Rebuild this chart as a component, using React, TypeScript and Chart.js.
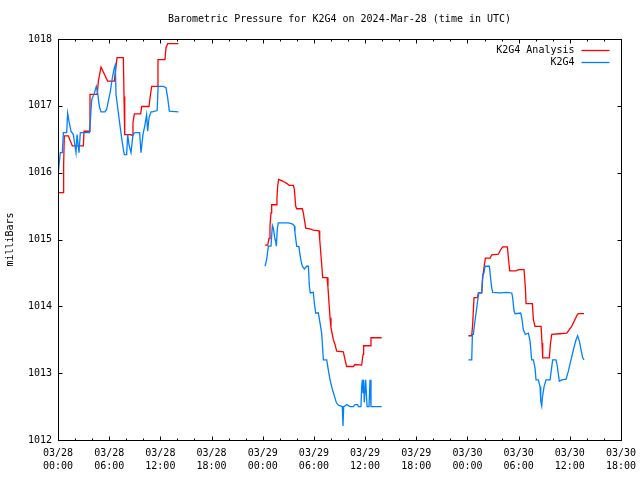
import React, { useEffect, useRef } from 'react';
import { Chart, registerables } from 'chart.js';

Chart.register(...registerables);

const FONT = "'DejaVu Sans Mono', 'Liberation Mono', monospace";
const TITLE = 'Barometric Pressure for K2G4 on 2024-Mar-28 (time in UTC)';
const Y_LABEL = 'milliBars';
const SERIES_NAMES = ['K2G4 Analysis', 'K2G4'];
const SERIES_COLORS = ['#ff0000', '#0080ff'];

// x axis: hours since 2024-03-28 00:00 UTC
const X_MIN = 0;
const X_MAX = 66;
const X_TICK_HOURS = [0, 6, 12, 18, 24, 30, 36, 42, 48, 54, 60, 66];
const X_TICK_LABELS = [
  ['03/28', '00:00'], ['03/28', '06:00'], ['03/28', '12:00'], ['03/28', '18:00'],
  ['03/29', '00:00'], ['03/29', '06:00'], ['03/29', '12:00'], ['03/29', '18:00'],
  ['03/30', '00:00'], ['03/30', '06:00'], ['03/30', '12:00'], ['03/30', '18:00'],
];
const X_MINOR_STEP = 2;
const Y_TICKS = [1012, 1013, 1014, 1015, 1016, 1017, 1018];

// K2G4 Analysis (red); null marks a gap in the record
const analysisHours = [
  0.0, 0.63, 0.66, 0.74, 1.21, 1.68, 2.97, 3.05, 3.67, 3.75, 4.53, 4.61, 4.73, 5.04, 5.82, 6.6,
  6.92, 7.66, 7.74, 7.82, 8.44, 8.71, 8.79, 8.95, 9.69, 9.81, 10.67, 10.79, 10.98, 11.65, 11.72,
  12.54, 12.66, 12.86, 14.11,
  19,
  24.27, 24.58, 24.74, 24.85, 24.97, 25.05, 25.56, 25.67, 25.75, 25.87, 26.22, 26.53, 26.81, 27.08,
  27.59, 27.71, 27.86, 27.98, 28.64, 28.76, 28.88, 29.04, 29.54, 29.93, 30.6, 30.68, 30.91, 31.03,
  31.54, 31.65, 31.77, 31.89, 32.0, 32.28, 32.47, 32.67, 33.45, 33.65, 33.84, 34.62, 34.82, 35.6,
  35.76, 35.83, 36.58, 36.69, 37.94,
  43,
  48.11, 48.5, 48.61, 48.77, 49.16, 49.28, 49.67, 49.79, 49.94, 50.1, 50.65, 50.84, 51.62, 51.9,
  52.13, 52.68, 52.8, 52.95, 53.7, 53.97, 54.63, 54.79, 54.87, 55.61, 55.73, 55.92, 56.63, 56.74,
  56.82, 57.6, 57.72, 57.88, 58.77, 59.64, 60.22, 60.89, 61.0, 61.67,
];
const analysisValues = [
  1015.7, 1015.7, 1016.12, 1016.55, 1016.55, 1016.4, 1016.4, 1016.62, 1016.62, 1017.17, 1017.17,
  1017.19, 1017.37, 1017.58, 1017.37, 1017.37, 1017.72, 1017.72, 1017.14, 1016.57, 1016.57,
  1016.56, 1016.75, 1016.88, 1016.88, 1016.99, 1016.99, 1017.12, 1017.29, 1017.29, 1017.69,
  1017.69, 1017.87, 1017.93, 1017.93,
  null,
  1014.915, 1014.915, 1015.015, 1015.2, 1015.4, 1015.52, 1015.52, 1015.62, 1015.8, 1015.9,
  1015.88, 1015.86, 1015.84, 1015.81, 1015.81, 1015.75, 1015.5, 1015.46, 1015.46, 1015.4,
  1015.3, 1015.17, 1015.16, 1015.14, 1015.13, 1015.0, 1014.63, 1014.43, 1014.43, 1014.28,
  1014.05, 1013.83, 1013.68, 1013.5, 1013.43, 1013.33, 1013.32, 1013.2, 1013.1, 1013.1,
  1013.13, 1013.12, 1013.28, 1013.41, 1013.41, 1013.53, 1013.53,
  null,
  1013.56, 1013.56, 1013.73, 1014.13, 1014.13, 1014.2, 1014.2, 1014.43, 1014.58, 1014.72,
  1014.72, 1014.77, 1014.78, 1014.85, 1014.89, 1014.89, 1014.73, 1014.53, 1014.53, 1014.55,
  1014.55, 1014.28, 1014.04, 1014.04, 1013.8, 1013.7, 1013.7, 1013.45, 1013.23, 1013.23,
  1013.43, 1013.58, 1013.59, 1013.6, 1013.7, 1013.88, 1013.89, 1013.89,
];

// K2G4 observations (blue)
const obsHours = [
  0.0, 0.12, 0.27, 0.51, 0.63, 1.02, 1.13, 1.29, 1.52, 1.8, 1.91, 2.11, 2.23, 2.3, 2.46, 2.62,
  3.67, 3.79, 3.95, 4.26, 4.49, 4.65, 4.85, 5.04, 5.51, 5.71, 5.9, 6.14, 6.37, 6.6, 6.72, 6.8,
  7.07, 7.27, 7.46, 7.66, 7.78, 8.05, 8.17, 8.32, 8.56, 8.79, 9.03, 9.57, 9.73, 9.96, 10.2,
  10.39, 10.51, 10.67, 10.9, 11.06, 11.62, 11.74, 12.35, 12.66, 12.86, 13.05, 14.11,
  19,
  24.27, 24.46, 24.66, 24.97, 25.13, 25.24, 25.44, 25.52, 25.6, 25.71, 25.83, 27.0, 27.51, 27.71,
  27.78, 27.98, 28.25, 28.37, 28.49, 28.64, 28.88, 29.15, 29.35, 29.47, 29.58, 29.93, 30.05,
  30.21, 30.52, 30.72, 30.91, 31.11, 31.5, 31.69, 31.89, 32.16, 32.4, 32.63, 32.87, 33.33,
  33.41, 33.49, 33.65, 33.84, 34.23, 34.62, 34.82, 35.13, 35.21, 35.52, 35.6, 35.68, 35.76,
  35.83, 35.91, 36.07, 36.23, 36.46, 36.58, 36.69, 37.94,
  43,
  48.11, 48.5, 48.58, 48.69, 48.85, 49.01, 49.16, 49.32, 49.67, 49.79, 49.94, 50.06, 50.57,
  50.73, 50.84, 50.96, 51.82, 52.6, 53.19, 53.3, 53.46, 53.58, 54.24, 54.4, 54.55, 54.79, 54.95,
  55.14, 55.34, 55.53, 55.73, 55.92, 56.04, 56.31, 56.51, 56.59, 56.71, 56.78, 56.98, 57.21,
  57.68, 57.99, 58.38, 58.54, 58.77, 59.05, 59.56, 59.83, 60.1, 60.42, 60.73, 60.92, 61.12,
  61.32, 61.51, 61.67,
];
const obsValues = [
  1015.92, 1016.12, 1016.3, 1016.3, 1016.6, 1016.6, 1016.89, 1016.77, 1016.62, 1016.57, 1016.47,
  1016.3, 1016.57, 1016.57, 1016.3, 1016.6, 1016.6, 1016.77, 1017.09, 1017.19, 1017.29, 1017.19,
  1016.99, 1016.91, 1016.91, 1016.95, 1017.07, 1017.22, 1017.42, 1017.57, 1017.61, 1017.17,
  1016.9, 1016.7, 1016.52, 1016.35, 1016.27, 1016.27, 1016.57, 1016.42, 1016.3, 1016.57, 1016.6,
  1016.6, 1016.3, 1016.57, 1016.72, 1016.87, 1016.62, 1016.82, 1016.91, 1016.91, 1016.93,
  1017.29, 1017.29, 1017.27, 1017.12, 1016.92, 1016.91,
  null,
  1014.6, 1014.7, 1014.9, 1014.9, 1015.21, 1015.17, 1015.0, 1014.97, 1014.9, 1015.16, 1015.25,
  1015.25, 1015.23, 1015.2, 1015.1, 1014.9, 1014.89, 1014.77, 1014.68, 1014.6, 1014.56, 1014.6,
  1014.6, 1014.3, 1014.2, 1014.21, 1014.05, 1013.9, 1013.9, 1013.75, 1013.6, 1013.2, 1013.2,
  1013.05, 1012.9, 1012.76, 1012.66, 1012.56, 1012.52, 1012.5, 1012.21, 1012.5, 1012.51,
  1012.53, 1012.5, 1012.5, 1012.53, 1012.53, 1012.5, 1012.5, 1012.8, 1012.9, 1012.71, 1012.9,
  1012.56, 1012.9, 1012.5, 1012.5, 1012.9, 1012.5, 1012.5,
  null,
  1013.2, 1013.2, 1013.58, 1013.58, 1013.75, 1013.9, 1014.05, 1014.2, 1014.2, 1014.48, 1014.5,
  1014.6, 1014.6, 1014.4, 1014.28, 1014.21, 1014.2, 1014.21, 1014.2, 1014.13, 1013.93, 1013.89,
  1013.9, 1013.8, 1013.65, 1013.58, 1013.59, 1013.6, 1013.48, 1013.2, 1013.2, 1013.08, 1012.9,
  1012.9, 1012.8, 1012.58, 1012.51, 1012.63, 1012.8, 1012.9, 1012.9, 1013.2, 1013.2, 1013.1,
  1012.88, 1012.9, 1012.91, 1013.03, 1013.18, 1013.35, 1013.5, 1013.56, 1013.48, 1013.35,
  1013.23, 1013.2,
];

const toPoints = (xs: number[], ys: (number | null)[]) => xs.map((x, i) => ({ x, y: ys[i] }));

const frameLegendPlugin = {
  id: 'frameLegend',
  afterDatasetsDraw(chart: any) {
    const { ctx, chartArea: a, scales } = chart;
    const xs = scales.x;
    const ys = scales.y;
    const L = Math.round(a.left) + 0.5;
    const R = Math.round(a.right) + 0.5;
    const T = Math.round(a.top) + 0.5;
    const B = Math.round(a.bottom) + 0.5;
    ctx.save();
    ctx.strokeStyle = '#000';
    ctx.lineWidth = 1;
    ctx.beginPath();
    for (let h = X_MIN; h <= X_MAX; h += X_MINOR_STEP) {
      const len = X_TICK_HOURS.includes(h) ? 4 : 2;
      const px = Math.round(xs.getPixelForValue(h)) + 0.5;
      ctx.moveTo(px, B);
      ctx.lineTo(px, B - len);
      ctx.moveTo(px, T);
      ctx.lineTo(px, T + len);
    }
    for (const v of Y_TICKS) {
      const py = Math.round(ys.getPixelForValue(v)) + 0.5;
      ctx.moveTo(L, py);
      ctx.lineTo(L + 4, py);
      ctx.moveTo(R, py);
      ctx.lineTo(R - 4, py);
    }
    ctx.stroke();
    ctx.strokeRect(L, T, R - L, B - T);

    // legend
    ctx.font = `10px ${FONT}`;
    ctx.textAlign = 'right';
    ctx.textBaseline = 'middle';
    chart.data.datasets.forEach((ds: any, i: number) => {
      const y = Math.round(a.top + 11 + i * 12) + 0.5;
      ctx.fillStyle = '#000';
      ctx.fillText(ds.label, R - 47, y);
      ctx.strokeStyle = ds.borderColor;
      ctx.lineWidth = 1.3;
      ctx.beginPath();
      ctx.moveTo(R - 40, y);
      ctx.lineTo(R - 12, y);
      ctx.stroke();
    });
    ctx.restore();
  },
};

export default function App() {
  const ref = useRef<HTMLCanvasElement | null>(null);
  useEffect(() => {
    if (!ref.current) return;
    const tickFont = { family: FONT, size: 10, lineHeight: 1.3 };
    const chart = new Chart(ref.current, {
      type: 'line',
      data: {
        datasets: [
          {
            label: SERIES_NAMES[0],
            data: toPoints(analysisHours, analysisValues),
            borderColor: SERIES_COLORS[0],
            backgroundColor: SERIES_COLORS[0],
            borderWidth: 1.3,
            pointRadius: 0,
            tension: 0,
            spanGaps: false,
            order: 2,
          },
          {
            label: SERIES_NAMES[1],
            data: toPoints(obsHours, obsValues),
            borderColor: SERIES_COLORS[1],
            backgroundColor: SERIES_COLORS[1],
            borderWidth: 1.3,
            pointRadius: 0,
            tension: 0,
            spanGaps: false,
            order: 1,
          },
        ],
      },
      options: {
        responsive: false,
        animation: false,
        events: [],
        layout: { padding: { left: 0, right: 19, top: 0, bottom: 0 } },
        plugins: {
          legend: { display: false },
          tooltip: { enabled: false },
          title: {
            display: true,
            fullSize: false,
            text: TITLE,
            color: '#000',
            font: { family: FONT, size: 10, weight: 'normal', lineHeight: 1.2 },
            padding: { top: 13, bottom: 14 },
          },
        },
        scales: {
          x: {
            type: 'linear',
            min: X_MIN,
            max: X_MAX,
            afterBuildTicks: (s: any) => {
              s.ticks = X_TICK_HOURS.map((v) => ({ value: v }));
            },
            afterFit: (s: any) => {
              s.height = 40;
              s.paddingLeft = 0;
              s.paddingRight = 0;
            },
            ticks: {
              autoSkip: false,
              maxRotation: 0,
              minRotation: 0,
              color: '#000',
              font: tickFont,
              padding: 7,
              callback: (v: any) => X_TICK_LABELS[X_TICK_HOURS.indexOf(Number(v))],
            },
            grid: { display: false, drawTicks: false },
            border: { display: false },
          },
          y: {
            type: 'linear',
            min: Y_TICKS[0],
            max: Y_TICKS[Y_TICKS.length - 1],
            afterBuildTicks: (s: any) => {
              s.ticks = Y_TICKS.map((v) => ({ value: v }));
            },
            afterFit: (s: any) => {
              s.width = 58;
              s.paddingTop = 0;
              s.paddingBottom = 0;
            },
            ticks: {
              color: '#000',
              font: { family: FONT, size: 10 },
              padding: 6,
              callback: (v: any) => String(v),
            },
            grid: { display: false, drawTicks: false },
            border: { display: false },
            title: {
              display: true,
              text: Y_LABEL,
              color: '#000',
              font: { family: FONT, size: 10 },
              padding: { top: 4, bottom: 0 },
            },
          },
        },
      },
      plugins: [frameLegendPlugin],
    } as any);
    return () => chart.destroy();
  }, []);

  return (
    <div style={{ position: 'fixed', left: 0, top: 0, width: 640, height: 480, background: '#fff' }}>
      <canvas ref={ref} width={640} height={480} style={{ width: 640, height: 480 }} />
    </div>
  );
}
